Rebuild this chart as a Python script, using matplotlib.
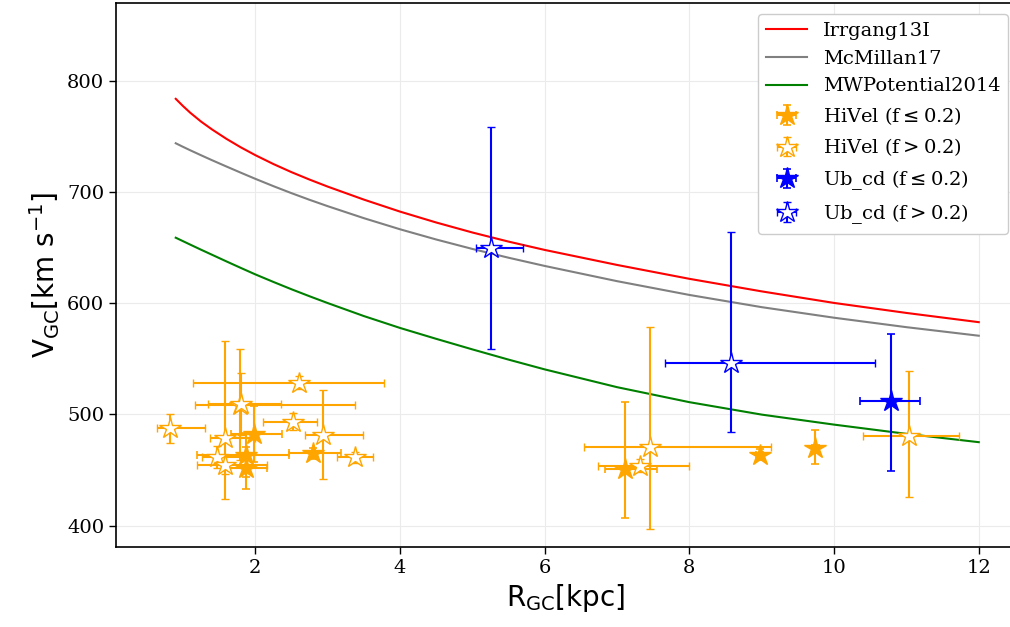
import matplotlib
matplotlib.use("Agg")
import matplotlib.pyplot as plt
import numpy as np

plt.rcParams['font.family'] = ['DejaVu Serif']
plt.rcParams['mathtext.fontset'] = 'dejavusans'

# Escape-velocity curves
R_curve = [0.9, 1.0, 1.1, 1.25, 1.4, 1.6, 1.8, 2.0, 2.25, 2.5, 2.75, 3.0, 3.5, 4.0, 4.5,
           5.0, 5.5, 6.0, 7.0, 8.0, 9.0, 10.0, 11.0, 12.0]
v_irrgang = [784, 777.5, 771.5, 763.5, 756.5, 748, 740.3, 733.3, 725.3, 718, 711.3, 705,
             693.3, 682.5, 672.7, 663.7, 655.5, 648, 634.5, 622, 610.7, 600.3, 591.3, 583]
v_mcmillan = [744, 740.8, 737.7, 733.2, 728.8, 723.1, 717.5, 712.0, 705.4, 699.1, 693.1, 687.4,
              676.6, 666.6, 657.4, 648.9, 641, 633.6, 619.9, 607.5, 596.5, 587, 578.5, 570.8]
v_mwpot = [659, 655.9, 652.8, 648.2, 643.7, 637.7, 631.8, 626.0, 619.2, 612.6, 606.3, 600.2,
           588.5, 577.8, 568, 558.5, 549.3, 540.5, 524.5, 511, 499.8, 490.8, 482.5, 475]

# HiVel, f <= 0.2
hv_f_R = [1.98, 1.87, 1.87, 2.80, 7.11, 8.97, 9.74]
hv_f_V = [482.5, 463.7, 451.7, 465.0, 450.8, 463.7, 469.7]
hv_f_Rlo = [0.31, 0.68, 0.25, 0.34, 0.27, 0.05, 0.05]
hv_f_Rhi = [0.39, 0.59, 0.29, 0.38, 0.44, 0.05, 0.05]
hv_f_Vlo = [25, 20, 19, 5, 44, 5, 14]
hv_f_Vhi = [25, 20, 19, 5, 60, 5, 16]

# HiVel, f > 0.2
hv_o_R = [0.82, 1.79, 1.80, 1.58, 1.47, 1.58, 2.61, 2.52, 2.93, 3.38, 7.46, 7.32, 11.04]
hv_o_V = [487.7, 508.6, 509.5, 478.7, 462.0, 454.7, 528.6, 493.6, 481.7, 461.6, 471.0, 453.8, 480.8]
hv_o_Rlo = [0.18, 0.63, 0.45, 0.21, 0.21, 0.38, 1.47, 0.41, 0.24, 0.25, 0.91, 0.58, 0.64]
hv_o_Rhi = [0.48, 1.59, 0.56, 0.42, 0.35, 0.58, 1.17, 0.33, 0.56, 0.25, 1.67, 0.67, 0.68]
hv_o_Vlo = [13, 50, 28, 55, 10, 8, 6, 8, 40, 5, 74, 6, 55]
hv_o_Vhi = [13, 50, 28, 87, 10, 8, 6, 8, 40, 5, 108, 6, 58]

# Ub_cd, f <= 0.2
ub_f_R = [10.78]
ub_f_V = [512.5]
ub_f_Rlo = [0.42]
ub_f_Rhi = [0.41]
ub_f_Vlo = [63]
ub_f_Vhi = [60]

# Ub_cd, f > 0.2
ub_o_R = [5.26, 8.58]
ub_o_V = [649.5, 546.3]
ub_o_Rlo = [0.21, 0.92]
ub_o_Rhi = [0.44, 1.99]
ub_o_Vlo = [90.5, 61.7]
ub_o_Vhi = [109.4, 118.2]

fig = plt.figure(figsize=(10.10, 6.27), dpi=100)
ax = fig.add_axes([0.1149, 0.128, 0.890, 0.867])

ax.plot(R_curve, v_irrgang, color='red', lw=1.5, label='Irrgang13I')
ax.plot(R_curve, v_mcmillan, color='grey', lw=1.5, label='McMillan17')
ax.plot(R_curve, v_mwpot, color='green', lw=1.5, label='MWPotential2014')

ms = 16
kw = dict(fmt='*', ms=ms, capsize=3, elinewidth=1.5, capthick=1.2, zorder=3)
ax.errorbar(hv_f_R, hv_f_V, xerr=[hv_f_Rlo, hv_f_Rhi], yerr=[hv_f_Vlo, hv_f_Vhi],
            color='orange', mfc='orange', mec='orange', label=r'HiVel (f$\leq$0.2)', **kw)
ax.errorbar(hv_o_R, hv_o_V, xerr=[hv_o_Rlo, hv_o_Rhi], yerr=[hv_o_Vlo, hv_o_Vhi],
            color='orange', mfc='white', mec='orange', mew=1.0, label=r'HiVel (f$>$0.2)', **kw)
ax.errorbar(ub_f_R, ub_f_V, xerr=[ub_f_Rlo, ub_f_Rhi], yerr=[ub_f_Vlo, ub_f_Vhi],
            color='blue', mfc='blue', mec='blue', label=r'Ub_cd (f$\leq$0.2)', **kw)
ax.errorbar(ub_o_R, ub_o_V, xerr=[ub_o_Rlo, ub_o_Rhi], yerr=[ub_o_Vlo, ub_o_Vhi],
            color='blue', mfc='white', mec='blue', mew=1.0, label=r'Ub_cd (f$>$0.2)', **kw)

ax.set_xlim(0.075, 12.50)
ax.set_ylim(380.9, 870.1)
ax.set_xticks([2, 4, 6, 8, 10, 12])
ax.set_yticks([400, 500, 600, 700, 800])
ax.tick_params(labelsize=14, direction='out', length=5, width=1)
ax.grid(True, color='#ebebeb', lw=0.8)
ax.set_axisbelow(True)
for s in ax.spines.values():
    s.set_linewidth(1.2)

ax.set_xlabel(r'R$_{\mathrm{GC}}$[kpc]', fontsize=20, family='DejaVu Sans')
ax.set_ylabel(r'V$_{\mathrm{GC}}$[km s$^{-1}$]', fontsize=20, family='DejaVu Sans')

leg = ax.legend(loc='upper right', bbox_to_anchor=(0.9922, 0.9798), borderaxespad=0,
                fontsize=14, handlelength=2.1, labelspacing=0.5,
                framealpha=1, edgecolor='#cccccc')

fig.savefig('out.png', dpi=100)
